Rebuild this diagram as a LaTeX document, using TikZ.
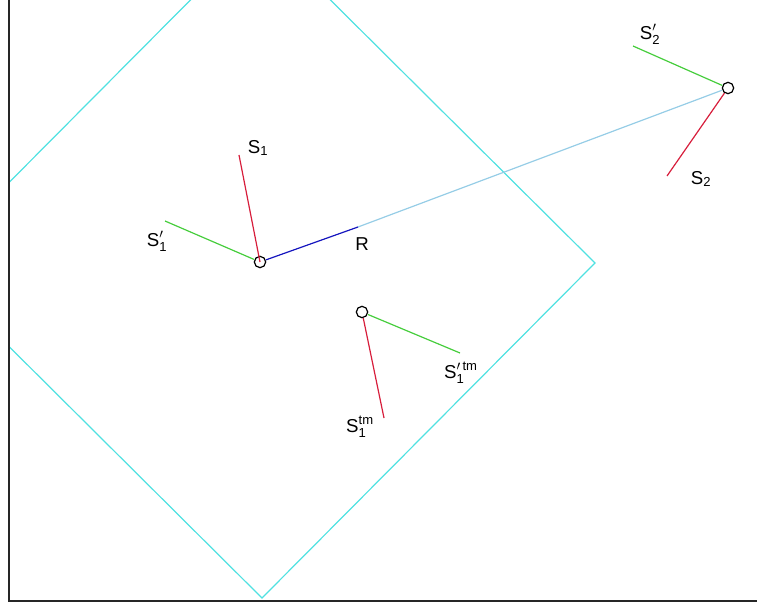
\documentclass[tikz,border=0pt]{standalone}
\usepackage{amsmath}
\usepackage{fontspec}
\setmainfont{Liberation Sans}
\setsansfont{Liberation Sans}
\usepackage[dvipsnames]{xcolor}

\definecolor{sqcyan}{RGB}{80,225,225}
\definecolor{rlblue}{RGB}{150,205,230}
\definecolor{rdblue}{RGB}{20,20,190}
\definecolor{sred}{RGB}{215,30,60}
\definecolor{sgreen}{RGB}{70,205,60}

\tikzset{
  pt/.style={circle,draw=black,line width=0.9pt,inner sep=0pt,minimum size=8.5pt},
  lbl/.style={inner sep=0.75pt,font=\fontsize{14}{16}\selectfont},
  sline/.style={line width=0.9pt},
}

\begin{document}
\begin{tikzpicture}[x=0.75pt,y=0.75pt,yscale=-1,xscale=1]
\useasboundingbox (0,0) rectangle (757,606);

%Shape: Square (clipped to the frame)
\begin{scope}
\clip (9,0) rectangle (757,601);
\draw [color=sqcyan,line width=0.9pt] (595,263) -- (262,598) -- (-73,265) -- (260,-70) -- cycle ;
\end{scope}

%Frame
\draw [color=black!85,line width=1.6pt] (9,0) -- (9,601) -- (757,601) ;

% Points
\node [pt] (p1) at (260,262) {};
\node [pt] (p2) at (728,88) {};
\node [pt] (p3) at (362,312) {};

% Line ends
\coordinate (p1s) at (239,155);
\coordinate (p1t) at (165,221);
\coordinate (rend) at (358,227);
\coordinate (p2s) at (667,176);
\coordinate (p2t) at (633,46);
\coordinate (p3s) at (384,418);
\coordinate (p3t) at (460,353);

%Straight Lines
\draw [sline,color=rlblue] (rend) -- (p2) ;
\draw [sline,color=rdblue] (p1) -- (rend) ;
\draw [sline,color=sred] (p1.center) -- (p1s) ;
\draw [sline,color=sgreen] (p1) -- (p1t) ;
\draw [sline,color=sred] (p2) -- (p2s) ;
\draw [sline,color=sgreen] (p2) -- (p2t) ;
\draw [sline,color=sred] (p3) -- (p3s) ;
\draw [sline,color=sgreen] (p3) -- (p3t) ;

% Text Node
\node [lbl] (ls1) at (258,148) {$\text{S}_{\text{1}}$};
% Text Node
\node [lbl] (ls1p) at (157,241) {$\text{S}^{\prime}_{\text{1}}$};
% Text Node
\node [lbl] (lr) at (362,244) {R};
% Text Node
\node [lbl] (ls2p) at (650,34) {$\text{S}^{\prime}_{\text{2}}$};
% Text Node
\node [lbl] (ls2) at (701,179) {$\text{S}_{\text{2}}$};
% Text Node
\node [lbl] (ls1pt) at (461,373) {$\text{S}^{\prime\,\text{tm}}_{\text{1}}$};
% Text Node
\node [lbl] (ls1t) at (360,427) {$\text{S}^{\text{tm}}_{\text{1}}$};

\end{tikzpicture}
\end{document}
